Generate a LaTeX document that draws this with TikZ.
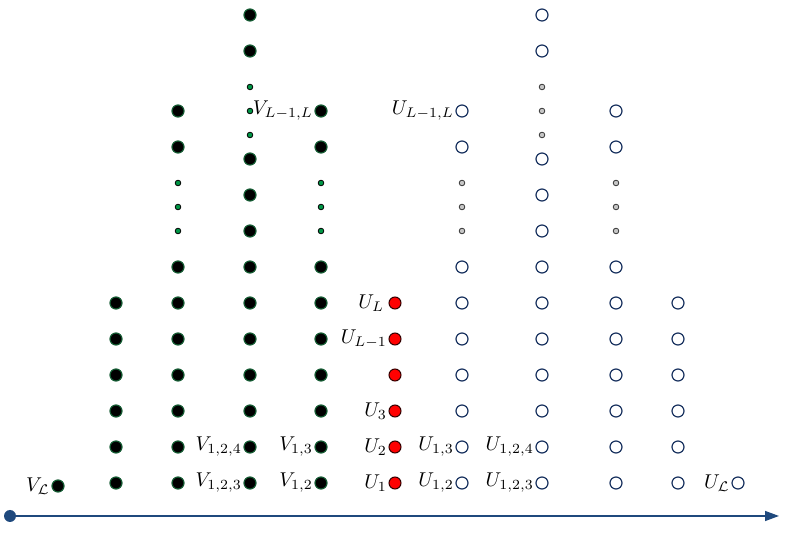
\documentclass[tikz,border=0pt]{standalone}
\usetikzlibrary{arrows.meta}
\definecolor{axisblue}{RGB}{31,73,125}
\definecolor{dotgreen}{RGB}{0,150,70}
\definecolor{rimgreen}{RGB}{20,90,50}
\definecolor{navy}{RGB}{25,50,95}
\begin{document}
\begin{tikzpicture}[x=0.5pt,y=-0.5pt,
  bigb/.style={circle,fill=black,draw=rimgreen,line width=0.6pt,minimum size=6pt,inner sep=0pt},
  smallg/.style={circle,fill=dotgreen,draw=black,line width=0.4pt,minimum size=2.8pt,inner sep=0pt},
  redd/.style={circle,fill=red,draw=black!80!red,line width=0.5pt,minimum size=6pt,inner sep=0pt},
  whitec/.style={circle,fill=white,draw=navy,line width=0.6pt,minimum size=6pt,inner sep=0pt},
  smallw/.style={circle,fill=gray!45,draw=black!80,line width=0.4pt,minimum size=2.8pt,inner sep=0pt},
  lab/.style={label={[inner sep=0.6pt,label distance=0pt]left:#1}}]
\useasboundingbox (0,0) rectangle (803,544);

% axis
\node[circle,fill=axisblue,inner sep=0pt,minimum size=6pt] (ax0) at (10,516) {};
\coordinate (ax1) at (779,516);
\draw[axisblue,line width=0.75pt,-{Triangle[length=7pt,width=5pt]}] (ax0) -- (ax1);

% isolated nodes
\node[bigb,lab={$V_{\mathcal{L}}$}] (vL) at (58,486) {};
\node[whitec,lab={$U_{\mathcal{L}}$}] (uL) at (738,483) {};

% column A
\foreach \y [count=\i] in {483,447,411,375,339,303}
  \node[bigb] (a\i) at (116,\y) {};
% column I
\foreach \y [count=\i] in {483,447,411,375,339,303}
  \node[whitec] (i\i) at (678,\y) {};
% red column E
\foreach \y [count=\i] in {483,447,411,375,339,303}
  \node[redd] (e\i) at (395,\y) {};

% columns B, D (filled) and F, H (open)
\foreach \c/\x/\big/\small in {b/178/bigb/smallg, d/321/bigb/smallg, f/462/whitec/smallw, h/616/whitec/smallw}{
  \foreach \y [count=\i] in {483,447,411,375,339,303,267}
    \node[\big] (\c\i) at (\x,\y) {};
  \foreach \y [count=\i] in {231,207,183}
    \node[\small] (\c s\i) at (\x,\y) {};
  \node[\big] (\c t1) at (\x,147) {};
  \node[\big] (\c t2) at (\x,111) {};
}

% columns C (filled) and G (open)
\foreach \c/\x/\big/\small in {c/250/bigb/smallg, g/542/whitec/smallw}{
  \foreach \y [count=\i] in {483,447,411,375,339,303,267,231,195,159}
    \node[\big] (\c\i) at (\x,\y) {};
  \foreach \y [count=\i] in {135,111,87}
    \node[\small] (\c s\i) at (\x,\y) {};
  \node[\big] (\c t1) at (\x,51) {};
  \node[\big] (\c t2) at (\x,15) {};
}

% labels
\node[anchor=east,inner sep=0.6pt] (lc1) at (c1.west) {$V_{1,2,3}$};
\node[anchor=east,inner sep=0.6pt] (lc2) at (c2.west) {$V_{1,2,4}$};
\node[anchor=east,inner sep=0.6pt] (ld1) at (d1.west) {$V_{1,2}$};
\node[anchor=east,inner sep=0.6pt] (ld2) at (d2.west) {$V_{1,3}$};
\node[anchor=east,inner sep=0.6pt] (ldt) at (dt2.west) {$V_{L-1,L}$};
\node[anchor=east,inner sep=0.6pt] (le1) at (e1.west) {$U_{1}$};
\node[anchor=east,inner sep=0.6pt] (le2) at (e2.west) {$U_{2}$};
\node[anchor=east,inner sep=0.6pt] (le3) at (e3.west) {$U_{3}$};
\node[anchor=east,inner sep=0.6pt] (le5) at (e5.west) {$U_{L-1}$};
\node[anchor=east,inner sep=2pt] (le6) at (e6.west) {$U_{L}$};
\node[anchor=east,inner sep=0.6pt] (lf1) at (f1.west) {$U_{1,2}$};
\node[anchor=east,inner sep=0.6pt] (lf2) at (f2.west) {$U_{1,3}$};
\node[anchor=east,inner sep=0.6pt] (lft) at (ft2.west) {$U_{L-1,L}$};
\node[anchor=east,inner sep=0.6pt] (lg1) at (g1.west) {$U_{1,2,3}$};
\node[anchor=east,inner sep=0.6pt] (lg2) at (g2.west) {$U_{1,2,4}$};
\end{tikzpicture}
\end{document}
